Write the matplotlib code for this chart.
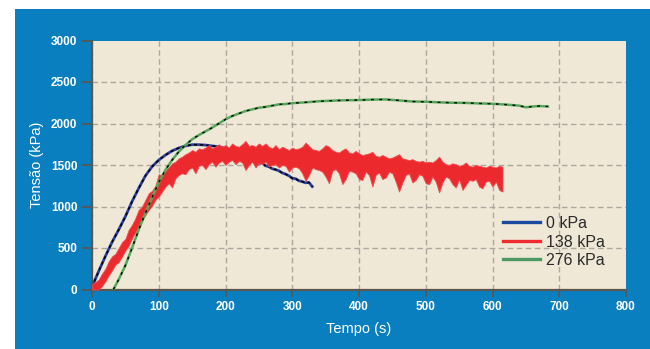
import matplotlib.pyplot as plt
from matplotlib.patches import Rectangle

# 0 kPa
blue_t = [0, 10, 20, 30, 40, 50, 60, 70, 80, 90, 100, 110, 120, 130, 140, 150, 160, 170, 180, 190,
          200, 210, 220, 230, 240, 245, 250, 255, 260, 265, 270, 275, 280, 285, 290, 295, 300, 305,
          310, 315, 320, 325, 330]
blue_v = [30, 220, 400, 570, 720, 880, 1060, 1220, 1370, 1480, 1560, 1620, 1670, 1705, 1730, 1745, 1745, 1740, 1730, 1720,
          1700, 1680, 1640, 1590, 1545, 1540, 1520, 1525, 1490, 1480, 1455, 1445, 1430, 1405, 1390, 1370, 1340, 1335,
          1310, 1300, 1285, 1290, 1240]

# 276 kPa
green_t = [32, 40, 50, 60, 70, 80, 90, 100, 110, 120, 130, 140, 150, 160, 170, 180, 190, 200, 210, 220,
           230, 240, 250, 260, 270, 280, 290, 300, 320, 340, 360, 380, 400, 420, 440, 460, 480, 500,
           520, 540, 560, 580, 600, 620, 640, 650, 660, 670, 683]
green_v = [0, 120, 290, 500, 720, 920, 1110, 1290, 1440, 1560, 1660, 1740, 1810, 1860, 1905, 1950, 2000, 2050, 2090, 2120,
           2150, 2170, 2190, 2200, 2215, 2230, 2235, 2245, 2255, 2268, 2275, 2280, 2282, 2288, 2290, 2278, 2265, 2262,
           2255, 2250, 2248, 2242, 2238, 2228, 2215, 2195, 2205, 2210, 2205]

# 138 kPa (noisy trace: upper and lower edge every 5 s)
red_t = list(range(0, 620, 5))
red_hi = [60, 90, 120, 190, 250, 340, 400, 430, 500, 570, 610, 720, 780, 860, 960, 1000, 1080, 1160, 1190, 1250,
          1390, 1370, 1430,
          1470, 1520, 1540, 1580, 1600, 1630, 1650, 1680, 1660, 1700, 1690, 1710, 1740, 1700, 1720, 1750, 1720, 1740,
          1710, 1760, 1730, 1720, 1750, 1790, 1730, 1740, 1720, 1760,
          1730, 1760, 1720, 1700, 1740, 1690, 1720, 1700, 1680, 1710, 1690, 1700, 1720, 1770, 1730, 1690, 1680, 1670,
          1700, 1740, 1720, 1680, 1660, 1650, 1680, 1700, 1650, 1640, 1670, 1640, 1620, 1630, 1640, 1660, 1610, 1600,
          1620, 1600, 1580, 1590, 1610, 1630, 1580, 1570, 1560, 1570, 1550, 1540, 1550, 1530, 1540, 1530, 1560, 1600,
          1540, 1510, 1500, 1520, 1510, 1490, 1500, 1530, 1490, 1480, 1500, 1490, 1480, 1470, 1490, 1480, 1470, 1490,
          1480]
red_lo = [0, 0, 0, 40, 100, 170, 230, 300, 330, 400, 470, 530, 620, 690, 760, 830, 900, 960, 1010, 1080,
          1120, 1180, 1240,
          1280, 1230, 1340, 1380, 1400, 1390, 1450, 1470, 1400, 1490, 1500, 1450, 1510, 1540, 1480, 1530, 1550, 1500,
          1540, 1560, 1510, 1550, 1530, 1440, 1500, 1540, 1470, 1530,
          1510, 1540, 1480, 1500, 1510, 1470, 1500, 1490, 1420, 1470, 1480, 1460, 1400, 1310, 1380, 1470, 1450, 1440,
          1420, 1360, 1280, 1430, 1450, 1400, 1270, 1330, 1430, 1420, 1400, 1330, 1320, 1420, 1380, 1240, 1380, 1410,
          1330, 1350, 1420, 1400, 1300, 1180, 1290, 1380, 1400, 1290, 1320, 1390, 1370, 1280, 1270, 1360, 1300, 1170,
          1290, 1360, 1340, 1270, 1230, 1330, 1200, 1260, 1320, 1310, 1330, 1240, 1220, 1300, 1310, 1240, 1300, 1200,
          1180]

x_ticks = [0, 100, 200, 300, 400, 500, 600, 700, 800]
y_ticks = [0, 500, 1000, 1500, 2000, 2500, 3000]

fig = plt.figure(figsize=(6.5, 3.49), dpi=100, facecolor="white")
fig.patches.append(Rectangle((15 / 650, 0), 1, 1 - 9 / 349, transform=fig.transFigure,
                             facecolor="#0a7fc0", edgecolor="none", zorder=-1))
ax = fig.add_axes([92 / 650, 1 - 289.5 / 349, 534 / 650, 249 / 349])
ax.set_facecolor("#efe8d6")

ax.plot(blue_t, blue_v, color="#2b3f9c", lw=2.0, zorder=2)
ax.plot(blue_t, blue_v, color="black", lw=1.1, ls=(0, (2, 2)), zorder=2.1)
ax.fill_between(red_t, red_lo, red_hi, color="#ec2a2e", lw=0.6, edgecolor="#f04a50", zorder=3)
ax.plot(green_t, green_v, color="#55a85a", lw=1.8, zorder=4)
ax.plot(green_t, green_v, color="black", lw=1.0, ls=(0, (2, 4)), zorder=4.1)

# legend proxies
ax.plot([], [], color="#1a4aa0", lw=2.4, label="0 kPa")
ax.plot([], [], color="#ee2b2f", lw=2.4, label="138 kPa")
ax.plot([], [], color="#4c9a62", lw=2.4, label="276 kPa")
leg = ax.legend(loc="upper left", bbox_to_anchor=(503 / 650, 1 - 216 / 349), bbox_transform=fig.transFigure,
                frameon=False, fontsize=11.5, handlelength=2.3, handletextpad=0.4, labelspacing=0.22,
                borderpad=0, borderaxespad=0)
for txt in leg.get_texts():
    txt.set_color("#2a2a2a")
    txt.set_family(["Liberation Sans", "DejaVu Sans"])

ax.set_xlim(0, 800)
ax.set_ylim(0, 3000)
ax.set_xticks(x_ticks)
ax.set_yticks(y_ticks)
ax.grid(True, color="#aca89e", ls=(0, (4, 2.5)), lw=1.0)
ax.set_axisbelow(True)
ax.yaxis.get_gridlines()[-1].set_visible(False)
ax.xaxis.get_gridlines()[-1].set_visible(False)

for s in ["top", "right"]:
    ax.spines[s].set_visible(False)
for s in ["left", "bottom"]:
    ax.spines[s].set_color("#5b5650")
    ax.spines[s].set_linewidth(1.6)

ax.tick_params(axis="both", colors="#5b5650", width=1.2, labelcolor="white")
ax.tick_params(axis="y", length=7, pad=3.5)
ax.tick_params(axis="x", length=5, pad=3.5)
for lab in ax.get_xticklabels() + ax.get_yticklabels():
    lab.set_family(["Liberation Sans", "DejaVu Sans"])
    lab.set_fontweight("bold")
    lab.set_fontsize(8.5)

ax.set_xlabel("Tempo (s)", color="white", fontsize=10.5, family=["Liberation Sans", "DejaVu Sans"], labelpad=6)
ax.set_ylabel("Tensão (kPa)", color="white", fontsize=10.5, family=["Liberation Sans", "DejaVu Sans"], labelpad=5)

plt.savefig("out.png", dpi=100)
